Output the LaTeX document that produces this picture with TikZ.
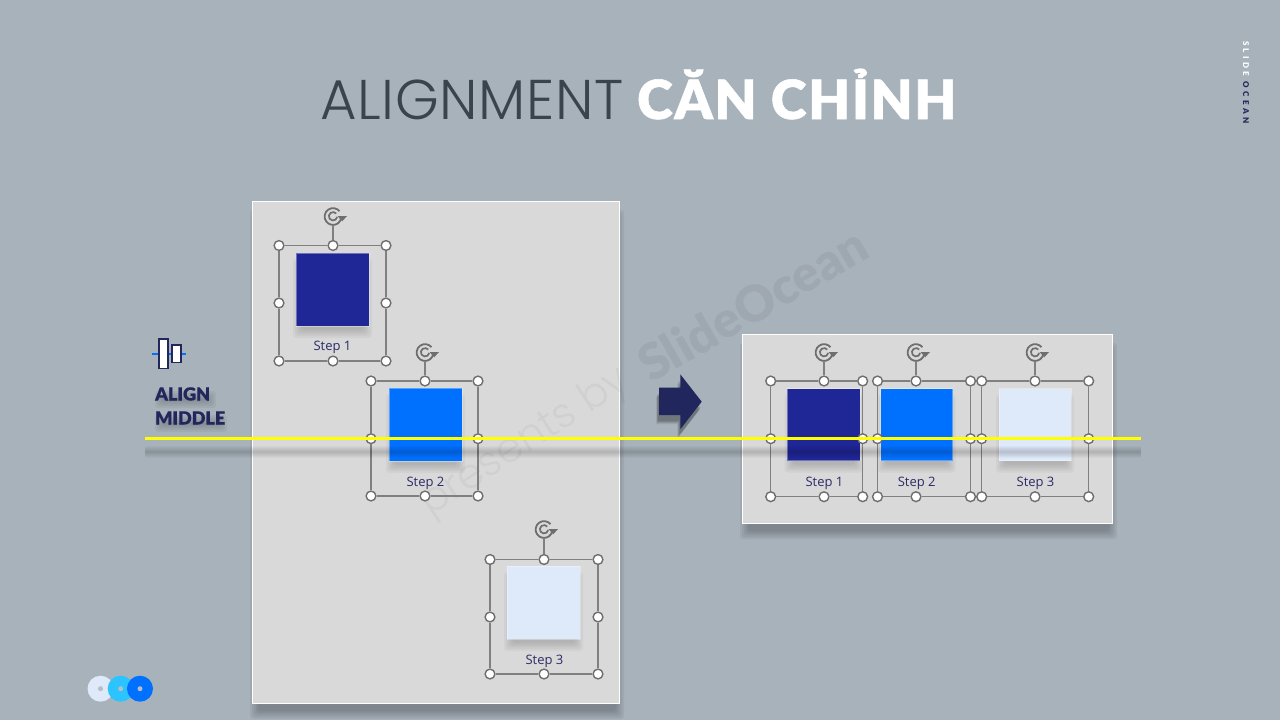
\documentclass[tikz,border=0pt]{standalone}
\usepackage{fontspec}
\setmainfont{Open Sans}
\newfontfamily\titlelight[UprightFont=* Light,LetterSpace=1.3]{Poppins}
\newfontfamily\wmlight[UprightFont=* Light]{Poppins}
\newfontfamily\titleheavy[UprightFont=* Black,LetterSpace=3.4,FakeBold=1]{Lato}
\newfontfamily\labelheavy[UprightFont=* Black]{Lato}
\newfontfamily\alignheavy[UprightFont=* Black,FakeBold=.5]{Lato}
\newfontfamily\brandheavy[UprightFont=* Black,LetterSpace=42]{Lato}
\usetikzlibrary{calc}
\definecolor{bgc}{HTML}{A8B2BA}
\definecolor{panelc}{HTML}{D9D9D9}
\definecolor{navy}{HTML}{21265C}
\definecolor{deep}{HTML}{1F2797}
\definecolor{bright}{HTML}{0070FF}
\definecolor{pale}{HTML}{DEE9F9}
\definecolor{sky}{HTML}{2BC4FF}
\definecolor{titlec}{HTML}{39444D}
\definecolor{handlec}{HTML}{6E6E6E}
\definecolor{selc}{HTML}{808080}
\definecolor{stepc}{HTML}{2B2C66}
\definecolor{rulec}{HTML}{FFFF00}
\tikzset{
  panel/.style={draw=white,line width=1pt,fill=panelc},
  tile/.style={draw=white,draw opacity=.35,line width=.6pt,inner sep=0pt},
  handle/.style={circle,draw=handlec,fill=white,line width=1.4pt,minimum size=9.8pt,inner sep=0pt},
  selline/.style={draw=selc,line width=1.2pt},
  steplabel/.style={font=\fontsize{13}{13}\selectfont,text=stepc,inner sep=0pt,anchor=base},
  logodot/.style={circle,minimum size=26pt,inner sep=0pt},
  logopip/.style={circle,fill=bgc!85!white,minimum size=5pt,inner sep=0pt},
  iconrect/.style={draw=navy,fill=white,line width=1.7pt,inner sep=0pt},
  alignlabel/.style={anchor=base west,inner sep=0pt,text=navy,font=\alignheavy\fontsize{18}{18}\selectfont},
}
% soft shadow: x1 y1 x2 y2 dx dy alpha
\newcommand\softshadow[7]{%
  \foreach \g in {3,1,-1,-3,-5}{
    \fill[black,opacity=#7,rounded corners=3pt] ({#1+#5-\g},{#2+#6-\g}) rectangle ({#3+#5+\g},{#4+#6+\g});
  }%
}
% name, x1 xm x2, y1 ym y2, rotation y
\newcommand\selbox[8]{%
  \coordinate (#1rc) at (#3,#8);
  \begin{scope}[shift={(#3,#8)},y=1pt]
    \draw[draw=handlec,line width=1.8pt] (8.3pt,-1.5pt) arc[start angle=-10,end angle=-320,radius=8.4pt];
    \draw[draw=handlec,line width=1.7pt] (4.2pt,-.5pt) arc[start angle=-10,end angle=-320,radius=4.2pt];
    \fill[handlec] (4.5pt,.5pt) -- (14pt,.5pt) -- (9.2pt,-4.8pt) -- cycle;
  \end{scope}
  \node[handle] (#1a) at (#2,#5) {};
  \node[handle] (#1b) at (#3,#5) {};
  \node[handle] (#1c) at (#4,#5) {};
  \node[handle] (#1d) at (#2,#6) {};
  \node[handle] (#1e) at (#4,#6) {};
  \node[handle] (#1f) at (#2,#7) {};
  \node[handle] (#1g) at (#3,#7) {};
  \node[handle] (#1h) at (#4,#7) {};
  \draw[selline] (#1a) -- (#1b); \draw[selline] (#1b) -- (#1c);
  \draw[selline] (#1c) -- (#1e); \draw[selline] (#1e) -- (#1h);
  \draw[selline] (#1h) -- (#1g); \draw[selline] (#1g) -- (#1f);
  \draw[selline] (#1f) -- (#1d); \draw[selline] (#1d) -- (#1a);
  \draw[selline] (#1b) -- ($(#1rc)+(0,8.5)$);
}
\begin{document}
\begin{tikzpicture}[x=1pt,y=-1pt]
\useasboundingbox (0,0) rectangle (1280,720);
\fill[bgc] (0,0) rectangle (1280,720);

% title
\node[anchor=base west,inner sep=0pt,text=titlec,font=\titlelight\fontsize{56}{56}\selectfont] (titleA) at (320,119) {ALIGNMENT};
\node[anchor=base west,inner sep=0pt,text=white,font=\titleheavy\fontsize{54}{54}\selectfont] (titleB) at (637,119) {CĂN CHỈNH};

% side brand
\node[rotate=-90,anchor=west,inner sep=0pt,font=\brandheavy\fontsize{8}{8}\selectfont] (brand) at (1246,41) {\textcolor{white}{SLIDE} \textcolor{navy}{OCEAN}};

% panels
\softshadow{252}{201}{620}{704}{1}{12}{.05}
\path[panel] (252.5,201.5) rectangle (619.5,703.5);

% watermark
\node[rotate=33,anchor=base west,inner sep=0pt,text=black,text opacity=.04,font=\wmlight\fontsize{41.5}{41.5}\selectfont] (wm1) at (430,517) {presents by};
\node[rotate=30,anchor=base west,inner sep=0pt,text=black,text opacity=.05,font=\labelheavy\fontsize{50}{50}\selectfont] (wm2) at (651,384) {SlideOcean};

\softshadow{742}{334}{1113}{524}{1}{12}{.05}
\path[panel] (742.5,334.5) rectangle (1112.5,523.5);

% arrow
\foreach \dx/\dy/\op in {-3/9/.08,-2/8/.09,-2/7/.1,-1/6/.1}{
  \begin{scope}[shift={(\dx,\dy)}]
    \fill[black,opacity=\op] (659,387.7) -- (680.3,387.7) -- (680.3,374.3) -- (701.7,401.7) -- (680.3,429.3) -- (680.3,415) -- (659,415) -- cycle;
  \end{scope}
}
\fill[navy] (659,387.7) -- (680.3,387.7) -- (680.3,374.3) -- (701.7,401.7) -- (680.3,429.3) -- (680.3,415) -- (659,415) -- cycle;

% tiles
\softshadow{296}{253}{369}{326}{0}{9}{.035}
\softshadow{389}{388}{462}{461}{0}{9}{.035}
\softshadow{507}{566}{580}{639}{0}{9}{.035}
\softshadow{787.5}{388.6}{860}{460.6}{0}{9}{.035}
\softshadow{880.5}{388.6}{952.5}{460.6}{0}{9}{.035}
\softshadow{999}{388.6}{1071}{460.6}{0}{9}{.035}
\node[tile,fill=deep,minimum size=73pt] (s1) at (332.5,289.5) {};
\node[tile,fill=bright,minimum size=73pt] (s2) at (425.5,424.5) {};
\node[tile,fill=pale,minimum size=73pt] (s3) at (543.5,602.5) {};
\node[tile,fill=deep,minimum width=72.5pt,minimum height=72pt] (r1) at (823.7,424.6) {};
\node[tile,fill=bright,minimum width=72pt,minimum height=72pt] (r2) at (916.5,424.6) {};
\node[tile,fill=pale,minimum width=72pt,minimum height=72pt] (r3) at (1035,424.6) {};

% labels
\node[steplabel] (l1) at (332.5,350.5) {Step 1};
\node[steplabel] (l2) at (425.5,486) {Step 2};
\node[steplabel] (l3) at (544.5,664.5) {Step 3};
\node[steplabel] (l4) at (824.5,486) {Step 1};
\node[steplabel] (l5) at (916.7,486) {Step 2};
\node[steplabel] (l6) at (1035.5,486) {Step 3};

% selection frames
\selbox{a}{279}{333}{386}{245.5}{303}{361}{216.5}
\selbox{b}{371}{425}{478}{381}{438.7}{496}{352.5}
\selbox{c}{490}{544}{598}{559.5}{617}{674}{529.5}
\selbox{d}{770.7}{824}{862.7}{381}{438.7}{496.7}{352.5}
\selbox{e}{877.5}{916}{970.5}{381}{438.7}{496.7}{352.5}
\selbox{f}{981.7}{1035}{1088.7}{381}{438.7}{496.7}{352.5}

% align icon
\coordinate (ic1) at (152,354);
\coordinate (ic2) at (186,354);
\draw[draw=bright,line width=1.3pt] (ic1) -- (ic2);
\node[iconrect,minimum width=8.8pt,minimum height=29.5pt] (tall) at (163.5,353.8) {};
\node[iconrect,minimum width=8.8pt,minimum height=17.5pt] (short) at (176.5,353.8) {};

% align label with soft blurred shadow patches
\softshadow{158}{389}{213}{400}{0}{5}{.045}
\softshadow{158}{413}{224}{424}{0}{5}{.045}
\node[alignlabel] (al1) at (155,400.5) {ALIGN};
\node[alignlabel] (al2) at (155,424.5) {MIDDLE};

% yellow rule and its shadow
\coordinate (ya) at (145,438.5);
\coordinate (yb) at (1141,438.5);
\coordinate (sa) at (145,451.5);
\coordinate (sb) at (1141,451.5);
\foreach \w in {12,10,8,6,4,2}{
  \draw[black,opacity=.028,line width=\w pt] (sa) -- (sb);
}
\draw[draw=rulec,line width=3.8pt] (ya) -- (yb);

% logo
\node[logodot,fill=pale] (lg1) at (100.5,688.7) {};
\node[logodot,fill=sky] (lg2) at (120.7,688.7) {};
\node[logodot,fill=bright] (lg3) at (140,688.7) {};
\node[logopip] at (lg1) {};
\node[logopip] at (lg2) {};
\node[logopip] at (lg3) {};
\end{tikzpicture}
\end{document}
